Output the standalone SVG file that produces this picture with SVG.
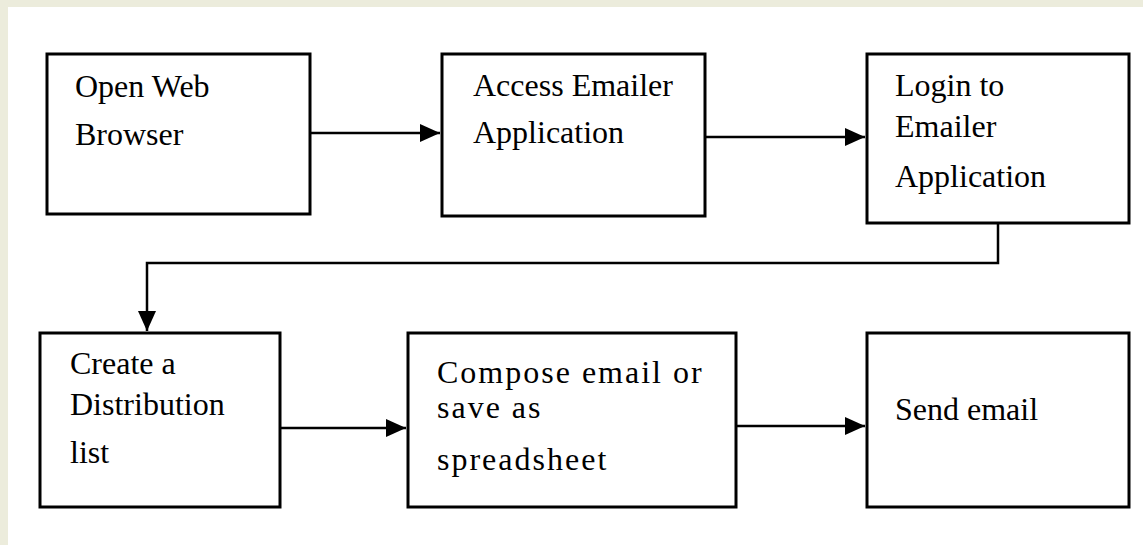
<svg xmlns="http://www.w3.org/2000/svg" width="1143" height="545" viewBox="0 0 1143 545">
<defs>
<style>
.box{fill:#ffffff;stroke:#000000;stroke-width:3}
.lbl{font-family:"Liberation Serif","Times New Roman",serif;font-size:32px;fill:#000000}
.sp{letter-spacing:2px}
.con{fill:none;stroke:#000000;stroke-width:2.5}
</style>
<marker id="ah" viewBox="0 0 20 18" refX="20" refY="9" markerWidth="20" markerHeight="18" markerUnits="userSpaceOnUse" orient="auto">
<path d="M0,0 L20,9 L0,18 Z" fill="#000000"/>
</marker>
</defs>
<rect x="0" y="0" width="1143" height="545" fill="#ececdc"/>
<rect x="8" y="7" width="1135" height="538" fill="#ffffff"/>
<g id="connectors">
<line class="con" x1="311" y1="133" x2="440" y2="133" marker-end="url(#ah)"/>
<line class="con" x1="706" y1="137" x2="865" y2="137" marker-end="url(#ah)"/>
<polyline class="con" points="998,224 998,263 147,263 147,331" marker-end="url(#ah)"/>
<line class="con" x1="281" y1="428" x2="406" y2="428" marker-end="url(#ah)"/>
<line class="con" x1="737" y1="426" x2="865" y2="426" marker-end="url(#ah)"/>
</g>
<g id="node1">
<rect class="box" x="47" y="54" width="263" height="160"/>
<text class="lbl" x="75" y="97">Open Web</text>
<text class="lbl" x="75" y="145">Browser</text>
</g>
<g id="node2">
<rect class="box" x="442" y="54" width="263" height="162"/>
<text class="lbl" x="473" y="96">Access Emailer</text>
<text class="lbl" x="473" y="143">Application</text>
</g>
<g id="node3">
<rect class="box" x="867" y="54" width="262" height="169"/>
<text class="lbl" x="895" y="96">Login to</text>
<text class="lbl" x="895" y="137">Emailer</text>
<text class="lbl" x="895" y="187">Application</text>
</g>
<g id="node4">
<rect class="box" x="40" y="333" width="240" height="174"/>
<text class="lbl" x="70" y="374">Create a</text>
<text class="lbl" x="70" y="415">Distribution</text>
<text class="lbl" x="70" y="463">list</text>
</g>
<g id="node5">
<rect class="box" x="408" y="333" width="328" height="174"/>
<text class="lbl sp" x="437" y="383">Compose email or</text>
<text class="lbl sp" x="437" y="418">save as</text>
<text class="lbl sp" x="437" y="470">spreadsheet</text>
</g>
<g id="node6">
<rect class="box" x="867" y="333" width="262" height="174"/>
<text class="lbl" x="895" y="420">Send email</text>
</g>
</svg>
